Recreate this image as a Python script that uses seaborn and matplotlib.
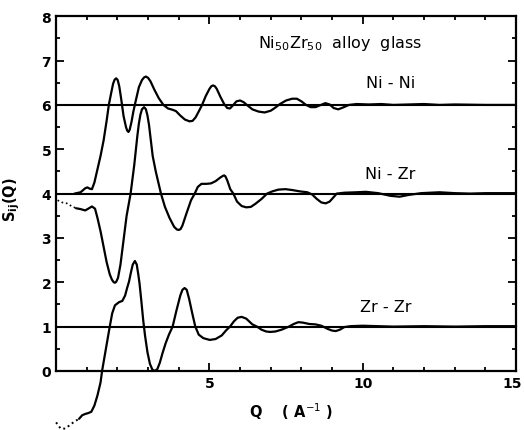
import numpy as np
import pandas as pd
import matplotlib
matplotlib.use("Agg")
import matplotlib.pyplot as plt
import matplotlib.transforms as mtransforms
import seaborn as sns
from matplotlib.ticker import MultipleLocator

# ---------------- data ----------------
nini_q = [0.60, 0.80, 0.95, 1.02, 1.10, 1.17, 1.25, 1.35, 1.45, 1.55, 1.65, 1.72, 1.80, 1.86, 1.91,
          1.96, 2.01, 2.06, 2.12, 2.20, 2.28, 2.32, 2.36, 2.40, 2.46, 2.52, 2.60, 2.70, 2.80, 2.87,
          2.93, 3.00, 3.08, 3.20, 3.35, 3.50, 3.65, 3.80, 3.91, 4.05, 4.20, 4.35, 4.45, 4.55, 4.65,
          4.76, 4.88, 5.00, 5.06, 5.12, 5.18, 5.24, 5.36, 5.48, 5.58, 5.67, 5.78, 5.88, 6.00, 6.12,
          6.22, 6.40, 6.60, 6.80, 7.00, 7.15, 7.30, 7.50, 7.70, 7.85, 8.00, 8.15, 8.30, 8.46, 8.60,
          8.78, 8.92, 9.05, 9.20, 9.35, 9.55, 9.80, 10.2, 10.6, 11.0, 11.5, 12.0, 12.5, 13.0, 14.0,
          15.0]
nini_s = [4.00, 4.03, 4.12, 4.14, 4.11, 4.10, 4.25, 4.55, 4.85, 5.20, 5.65, 6.00, 6.28, 6.48, 6.57,
          6.60, 6.56, 6.42, 6.15, 5.75, 5.50, 5.42, 5.39, 5.44, 5.62, 5.85, 6.10, 6.40, 6.56, 6.62,
          6.64, 6.61, 6.53, 6.35, 6.15, 6.00, 5.92, 5.89, 5.86, 5.76, 5.67, 5.63, 5.64, 5.72, 5.85,
          6.00, 6.20, 6.36, 6.42, 6.44, 6.42, 6.36, 6.18, 6.02, 5.93, 5.92, 6.00, 6.08, 6.10, 6.06,
          6.00, 5.90, 5.85, 5.83, 5.87, 5.94, 6.02, 6.10, 6.14, 6.14, 6.08, 6.00, 5.95, 5.95, 5.99,
          6.04, 6.01, 5.93, 5.90, 5.94, 6.00, 6.02, 6.01, 6.02, 6.00, 6.01, 6.02, 6.00, 6.01, 6.00,
          6.00]

nizr_dot_q = [0.05, 0.20, 0.35, 0.50, 0.65]
nizr_dot_s = [3.85, 3.80, 3.78, 3.72, 3.67]
nizr_q = [0.65, 0.80, 0.95, 1.05, 1.17, 1.27, 1.35, 1.45, 1.55, 1.65, 1.75, 1.82, 1.88, 1.92, 1.96,
          2.02, 2.10, 2.20, 2.30, 2.43, 2.55, 2.65, 2.70, 2.75, 2.80, 2.87, 2.93, 2.98, 3.03, 3.09,
          3.15, 3.25, 3.42, 3.55, 3.70, 3.85, 3.94, 4.00, 4.06, 4.12, 4.25, 4.40, 4.52, 4.62, 4.74,
          4.90, 5.05, 5.20, 5.35, 5.44, 5.48, 5.52, 5.58, 5.68, 5.78, 5.90, 6.05, 6.20, 6.35, 6.50,
          6.70, 6.88, 7.05, 7.25, 7.48, 7.70, 7.95, 8.19, 8.35, 8.50, 8.65, 8.79, 8.92, 9.05, 9.15,
          9.40, 9.80, 10.1, 10.5, 10.9, 11.2, 11.5, 11.9, 12.5, 13.0, 13.5, 14.0, 15.0]
nizr_s = [3.67, 3.65, 3.62, 3.66, 3.71, 3.66, 3.45, 3.15, 2.80, 2.45, 2.18, 2.06, 2.00, 1.99, 2.01,
          2.10, 2.40, 2.95, 3.50, 4.00, 4.65, 5.30, 5.58, 5.78, 5.90, 5.95, 5.90, 5.76, 5.55, 5.20,
          4.85, 4.50, 4.00, 3.70, 3.45, 3.25, 3.19, 3.18, 3.20, 3.28, 3.55, 3.85, 4.00, 4.15, 4.22,
          4.22, 4.23, 4.28, 4.36, 4.40, 4.41, 4.39, 4.30, 4.10, 4.00, 3.82, 3.72, 3.69, 3.70, 3.77,
          3.88, 4.00, 4.05, 4.09, 4.10, 4.08, 4.05, 4.03, 3.98, 3.88, 3.80, 3.78, 3.82, 3.92, 4.00,
          4.02, 4.03, 4.04, 4.01, 3.95, 3.93, 3.97, 4.01, 4.03, 4.01, 4.00, 4.01, 4.01]

zrzr_dot_q = [0.00, 0.15, 0.30, 0.45, 0.60, 0.75]
zrzr_dot_s = [-1.16, -1.30, -1.30, -1.22, -1.14, -1.08]
zrzr_q = [0.75, 0.85, 0.95, 1.05, 1.15, 1.25, 1.35, 1.45, 1.50, 1.60, 1.68, 1.75, 1.83, 1.92, 2.05,
          2.16, 2.25, 2.32, 2.38, 2.44, 2.50, 2.57, 2.63, 2.68, 2.72, 2.78, 2.84, 2.90, 2.98, 3.06,
          3.14, 3.22, 3.30, 3.38, 3.47, 3.57, 3.68, 3.80, 3.92, 4.05, 4.12, 4.19, 4.26, 4.34, 4.44,
          4.54, 4.65, 4.80, 5.01, 5.20, 5.40, 5.55, 5.67, 5.80, 5.92, 6.05, 6.20, 6.40, 6.55, 6.70,
          6.85, 6.98, 7.15, 7.35, 7.59, 7.75, 7.90, 8.05, 8.25, 8.46, 8.65, 8.85, 9.00, 9.12, 9.25,
          9.40, 9.60, 10.0, 10.5, 11.0, 12.0, 13.0, 14.0, 15.0]
zrzr_s = [-1.08, -1.00, -0.97, -0.95, -0.92, -0.78, -0.55, -0.26, 0.00, 0.40, 0.72, 1.00, 1.30, 1.48, 1.55,
          1.58, 1.70, 1.88, 2.02, 2.22, 2.40, 2.48, 2.40, 2.18, 1.98, 1.58, 1.15, 0.80, 0.42, 0.16,
          0.03, 0.00, 0.04, 0.18, 0.40, 0.62, 0.82, 1.00, 1.35, 1.70, 1.83, 1.87, 1.83, 1.62, 1.30,
          1.00, 0.82, 0.74, 0.70, 0.72, 0.80, 0.92, 1.00, 1.12, 1.20, 1.22, 1.18, 1.05, 1.00, 0.93,
          0.89, 0.88, 0.89, 0.93, 1.00, 1.06, 1.10, 1.09, 1.06, 1.05, 1.02, 0.95, 0.91, 0.90, 0.93,
          0.99, 1.01, 1.02, 1.01, 1.00, 1.01, 1.00, 1.01, 1.01]

baselines = [6, 4, 1]
pair_labels = ["Ni - Ni", "Ni - Zr", "Zr - Zr"]
title_text = r"Ni$_{50}$Zr$_{50}$  alloy  glass"
y_ticks = [0, 1, 2, 3, 4, 5, 6, 7, 8]
x_ticks = [0, 5, 10, 15]
x_tick_labels = ["", "5", "10", "15"]

# ---------------- plot ----------------
sns.set_style("ticks")
plt.rcParams["font.family"] = ["DejaVu Sans"]
plt.rcParams["text.color"] = "black"
plt.rcParams["axes.labelcolor"] = "black"

fig = plt.figure(figsize=(5.24, 4.31), dpi=100)
ax = fig.add_axes([0.107, 0.137, 0.878, 0.823])

lw = 1.6
for b in baselines:
    ax.axhline(b, color="black", lw=1.5, zorder=1)

sns.lineplot(x=nini_q, y=nini_s, ax=ax, color="black", lw=lw, sort=False, estimator=None)
sns.lineplot(x=nizr_q, y=nizr_s, ax=ax, color="black", lw=lw, sort=False, estimator=None)
sns.lineplot(x=nizr_dot_q, y=nizr_dot_s, ax=ax, color="black", lw=1.2, ls=":", sort=False, estimator=None)
sns.lineplot(x=zrzr_q, y=zrzr_s, ax=ax, color="black", lw=lw, sort=False, estimator=None, clip_on=False)
sns.lineplot(x=zrzr_dot_q, y=zrzr_dot_s, ax=ax, color="black", lw=1.4, ls=":", sort=False, estimator=None, clip_on=False)

ax.set_xlim(0, 15)
ax.set_ylim(0, 8)
ax.set_xticks(x_ticks)
ax.set_xticklabels(x_tick_labels)
ax.set_yticks(y_ticks)
ax.xaxis.set_minor_locator(MultipleLocator(1))
ax.yaxis.set_minor_locator(MultipleLocator(0.5))
ax.tick_params(which="both", direction="in", top=True, right=True, width=1.3, colors="black")
ax.tick_params(which="major", length=6, labelsize=10)
ax.tick_params(which="minor", length=3)
for lab in ax.get_xticklabels() + ax.get_yticklabels():
    lab.set_fontweight("bold")
# keep the last x label ("15") inside the canvas, as at the edge in the reference
last = ax.get_xticklabels()[-1]
last.set_horizontalalignment("right")
last.set_transform(last.get_transform() + mtransforms.ScaledTranslation(6 / 100, 0, fig.dpi_scale_trans))
for sp in ax.spines.values():
    sp.set_linewidth(1.6)
    sp.set_color("black")

ax.set_ylabel(r"S$_{\mathregular{ij}}$(Q)", fontsize=10.5, fontweight="bold", va="center", color="black")
ax.yaxis.set_label_coords(-0.096, 0.485)
ax.set_xlabel(r"Q    ( A$^{-1}$ )", fontsize=10.5, fontweight="bold", va="center", color="black")
ax.xaxis.set_label_coords(0.51, -0.113)

ax.text(6.6, 7.41, title_text, fontsize=11.5, ha="left", va="center", color="black")
ax.text(10.9, 6.51, pair_labels[0], fontsize=11.5, ha="center", va="center", color="black")
ax.text(10.9, 4.46, pair_labels[1], fontsize=11.5, ha="center", va="center", color="black")
ax.text(10.75, 1.45, pair_labels[2], fontsize=11.5, ha="center", va="center", color="black")

fig.savefig("out.png", dpi=100)
